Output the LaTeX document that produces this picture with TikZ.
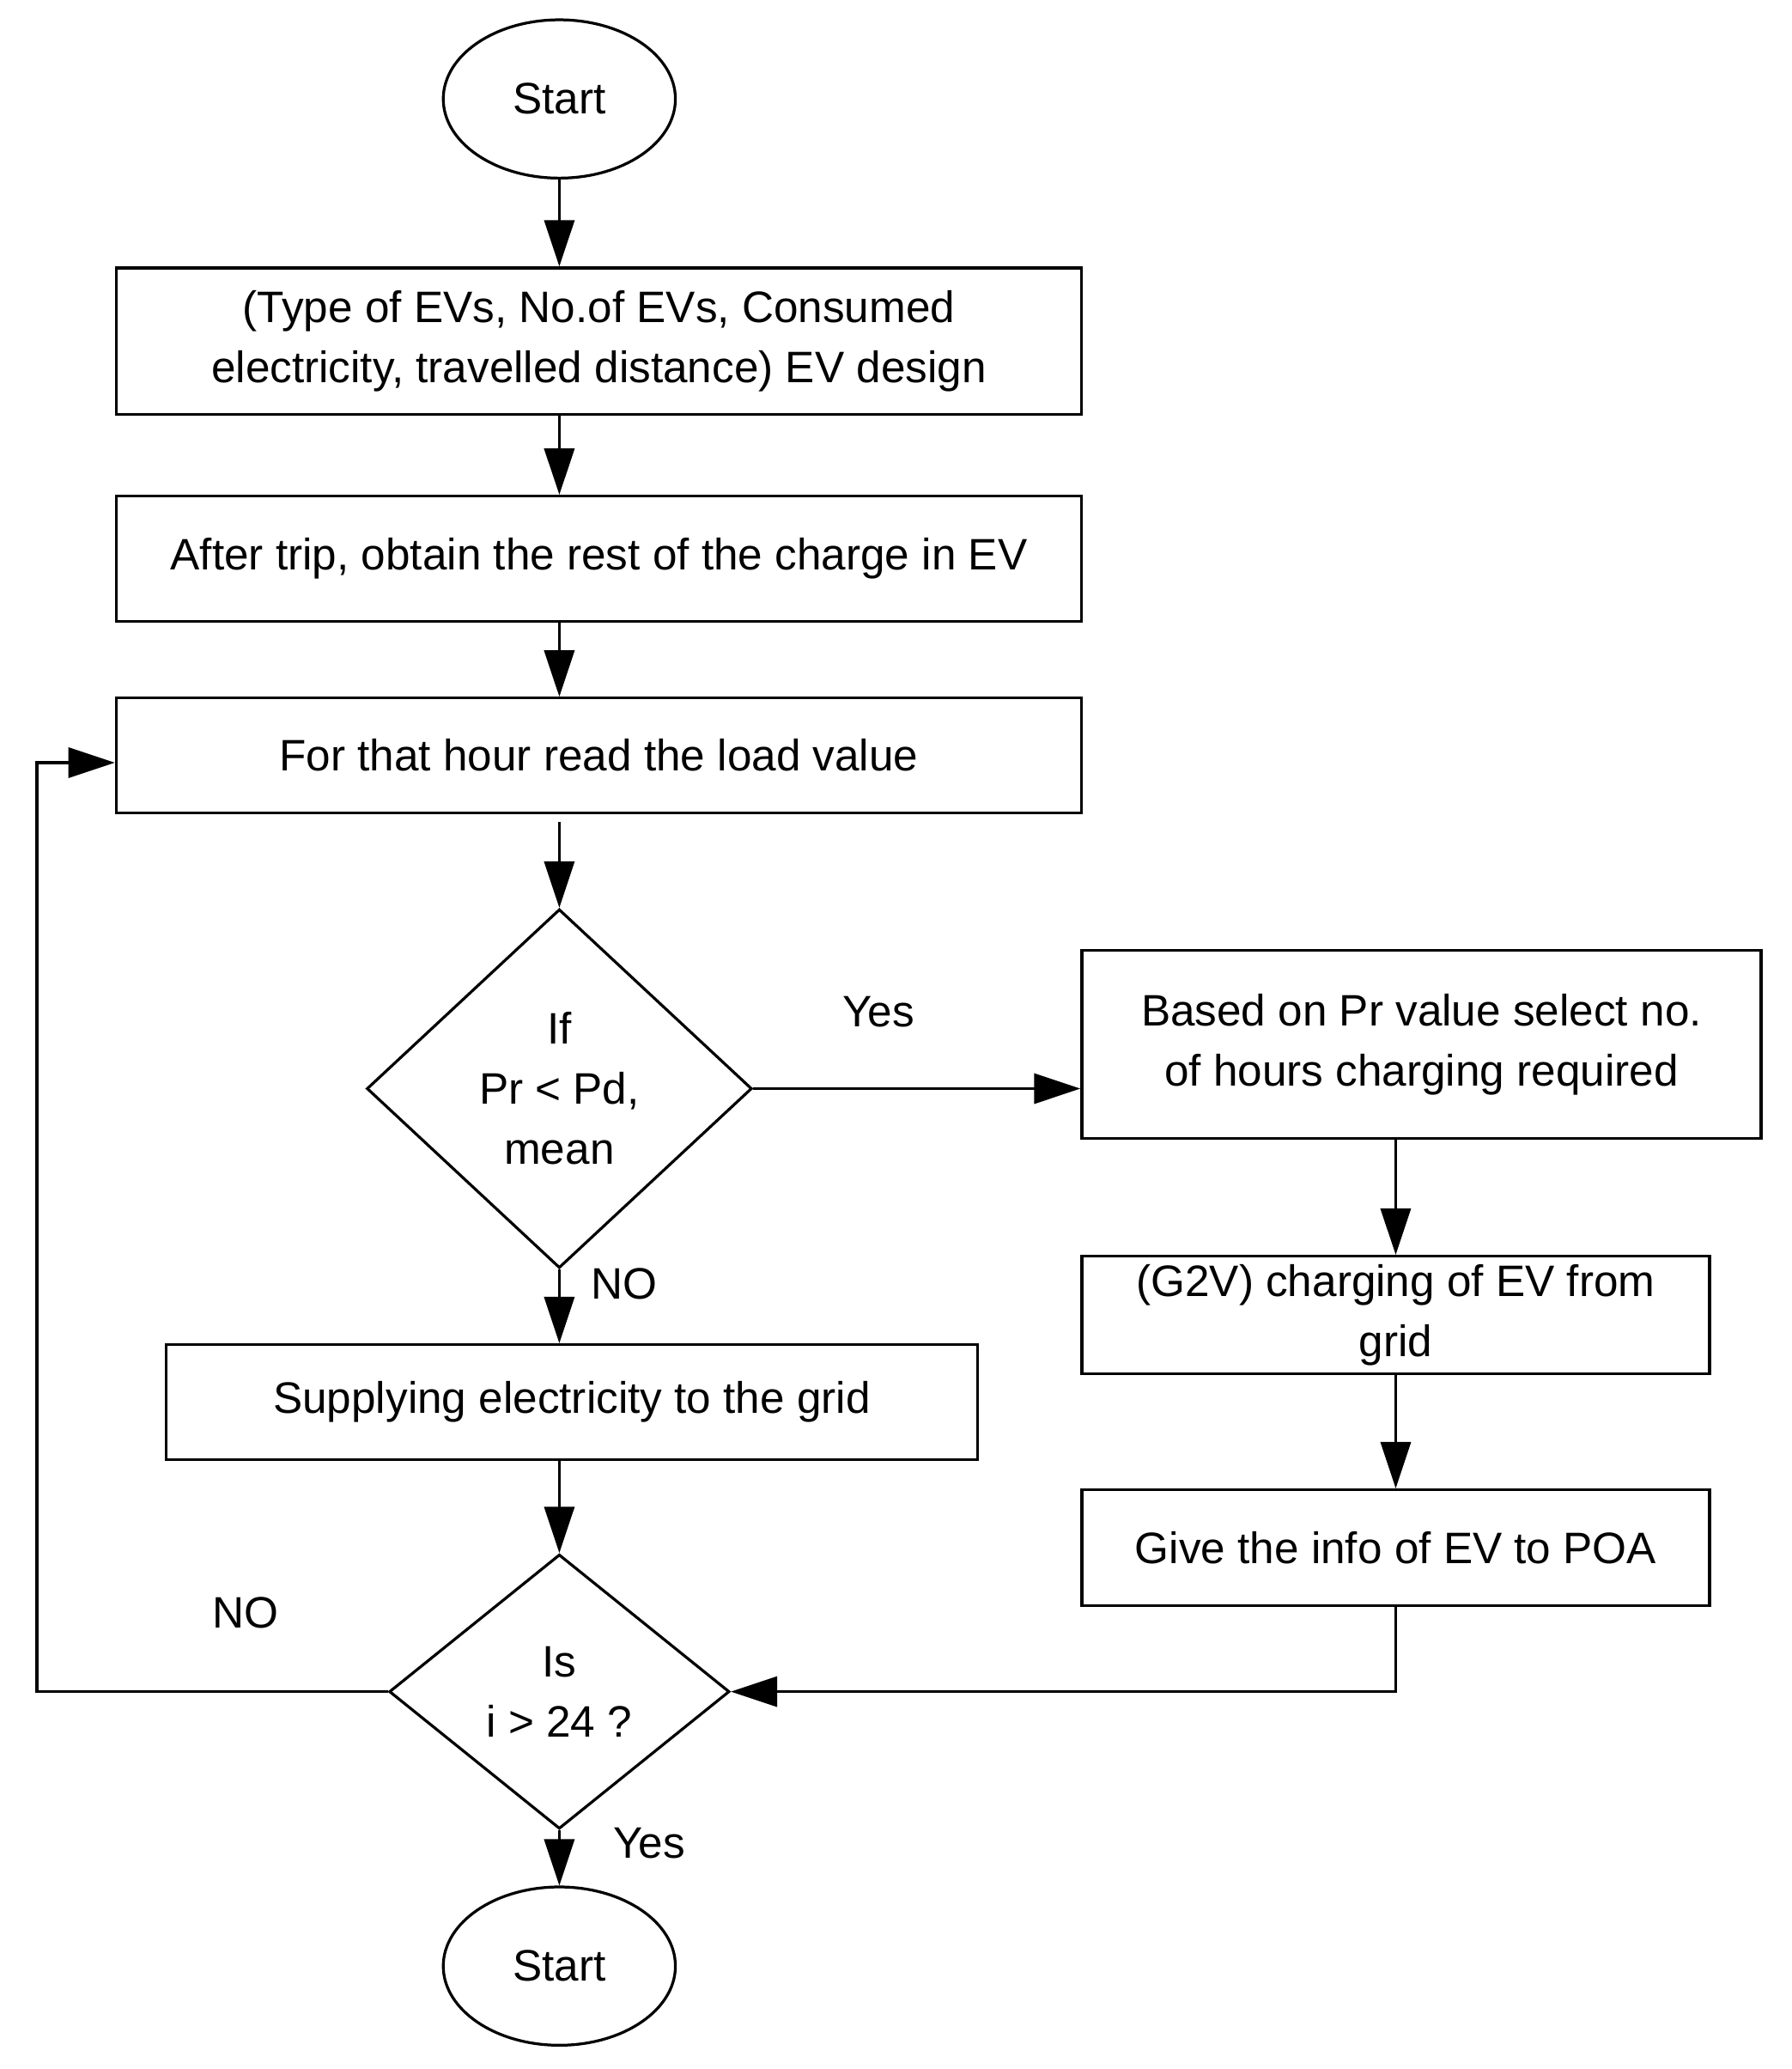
\documentclass[tikz,border=0pt]{standalone}
\usepackage{fontspec}
\setmainfont{Liberation Sans}
\usetikzlibrary{shapes.geometric,arrows.meta}
\begin{document}
\begin{tikzpicture}[x=0.02cm,y=-0.02cm,
  every node/.style={font=\fontsize{19}{26}\selectfont},
  box/.style={draw,line width=1.2pt,inner sep=0pt,align=center},
  ell/.style={draw,ellipse,line width=1.2pt,inner sep=0pt,minimum width=3.52cm,minimum height=2.4cm},
  arr/.style={line width=1.2pt,-{Triangle[length=20pt,width=13pt]}}]
\useasboundingbox (0,0) rectangle (1358,1568);
\node[ell] (s) at (424,75) {Start};
\node[box,minimum width=14.64cm,minimum height=2.22cm] (b1) at (454,258.5) {(Type of EVs, No.of EVs, Consumed\\electricity, travelled distance) EV design};
\node[box,minimum width=14.64cm,minimum height=1.9cm] (b2) at (454,423.5) {After trip, obtain the rest of the charge in EV};
\node[box,minimum width=14.64cm,minimum height=1.74cm] (b3) at (454,572.5) {For that hour read the load value};
\node[draw,line width=1.2pt,diamond,aspect=1.07,minimum width=5.84cm,minimum height=5.44cm,inner sep=0pt,align=center] (d1) at (424,825) {If\\Pr < Pd,\\mean};
\node[box,minimum width=10.3cm,minimum height=2.86cm] (by) at (1077.5,791.5) {Based on Pr value select no.\\of hours charging required};
\node[box,minimum width=9.52cm,minimum height=1.78cm] (bg) at (1058,996.5) {(G2V) charging of EV from\\grid};
\node[box,minimum width=9.52cm,minimum height=1.76cm] (bp) at (1058,1173) {Give the info of EV to POA};
\node[box,minimum width=12.3cm,minimum height=1.74cm] (bs) at (433.5,1062.5) {Supplying electricity to the grid};
\node[draw,line width=1.2pt,diamond,aspect=1.24,minimum width=5.16cm,minimum height=4.16cm,inner sep=0pt,align=center] (d2) at (424,1282) {Is\\i > 24 ?};
\node[ell] (en) at (424,1490) {Start};
\draw[arr] (s.south) -- (b1.north -| s.south);
\draw[arr] (b1.south -| s.south) -- (b2.north -| s.south);
\draw[arr] (b2.south -| s.south) -- (b3.north -| s.south);
\draw[arr] ([yshift=-0.12cm]b3.south -| s.south) -- (d1.north);
\draw[arr] (d1.east) -- (by.west |- d1.east);
\draw[arr] (by.south -| bg) -- (bg.north);
\draw[arr] (bg.south) -- (bp.north);
\draw[arr] (d1.south) -- (bs.north -| d1);
\draw[arr] (bs.south -| d2) -- (d2.north);
\draw[arr] (d2.south) -- (en.north);
\coordinate (c1) at (28,1282);
\coordinate (c2) at (28,578);
\draw[arr] (d2.west) -- (c1) -- (c2) -- (b3.west |- c2);
\coordinate (c3) at (1058,1282);
\draw[arr] (bp.south) -- (c3) -- (d2.east);
\node at (666,767) {Yes};
\node at (473,973) {NO};
\node at (186,1222) {NO};
\node at (492,1397) {Yes};
\end{tikzpicture}
\end{document}
